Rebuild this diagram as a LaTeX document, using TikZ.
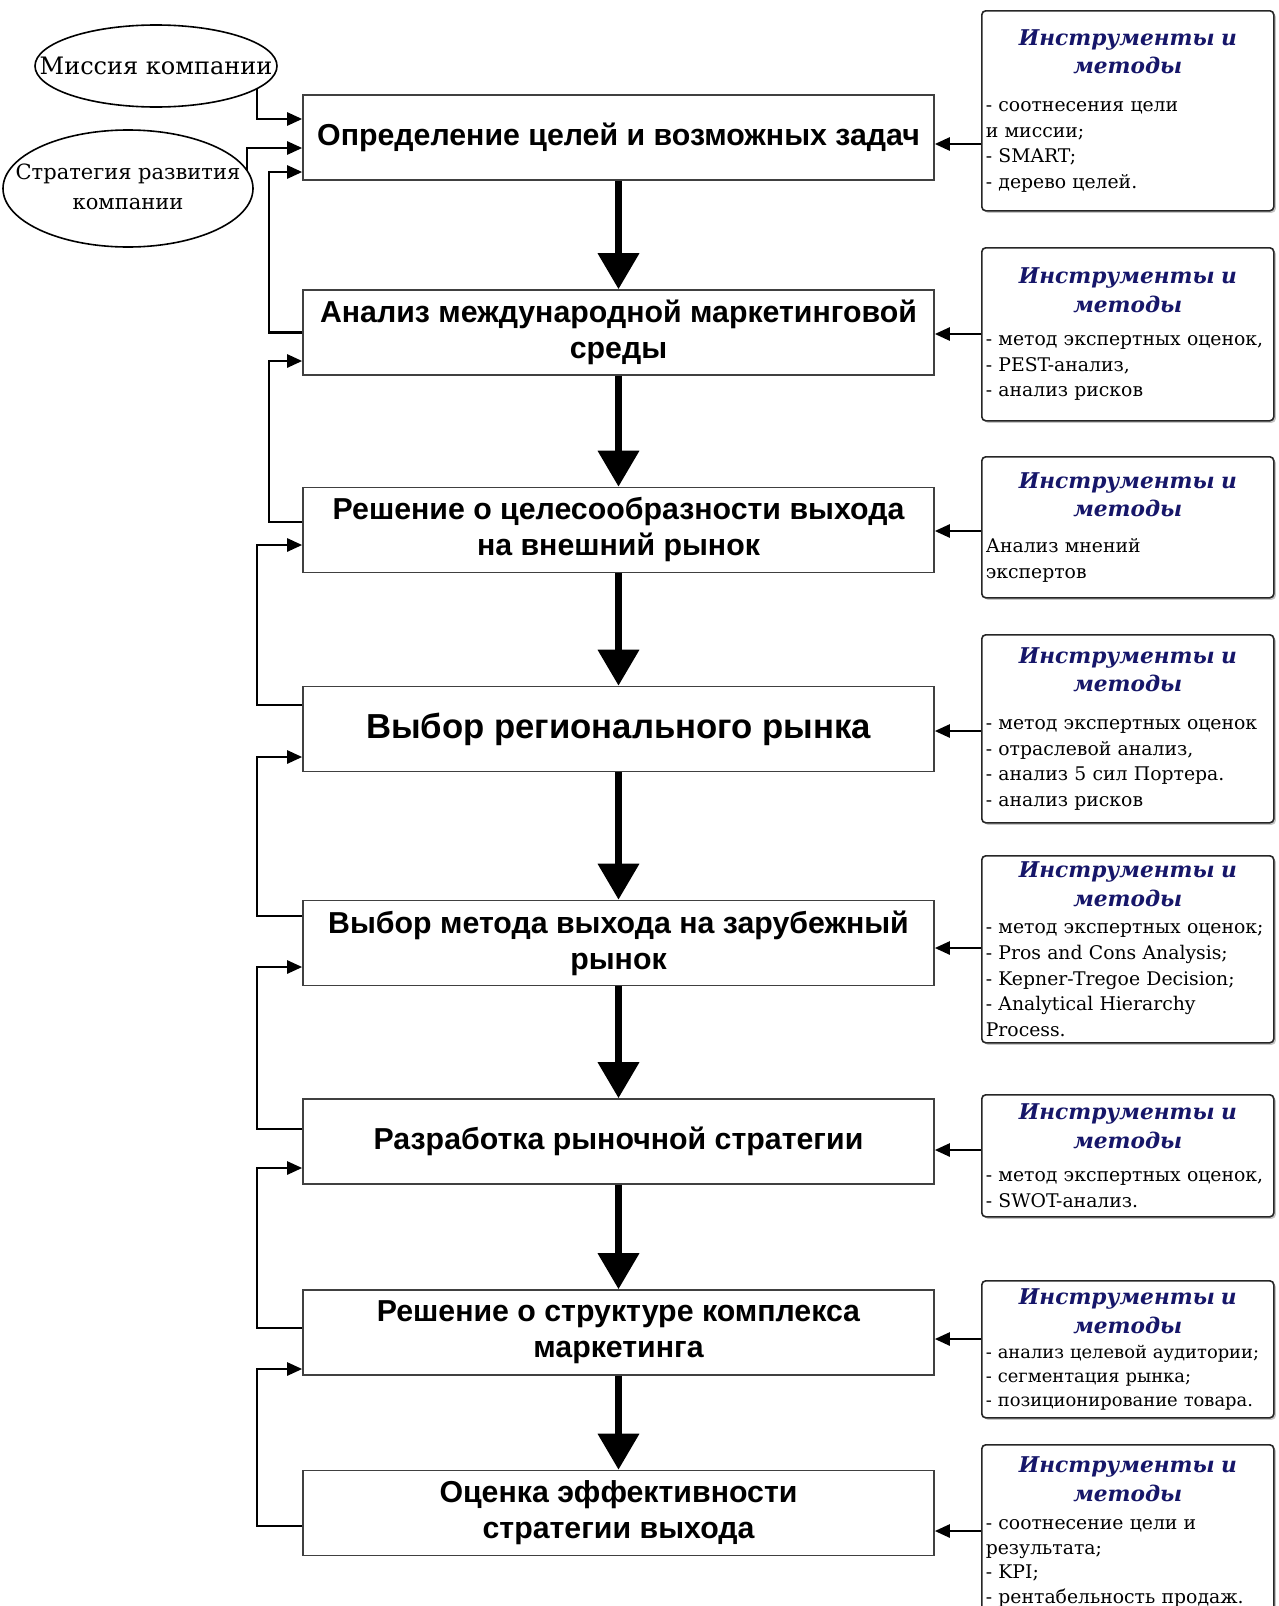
\documentclass[tikz,border=0pt]{standalone}
\usepackage{fontspec}
\setmainfont{DejaVu Serif}
\newfontfamily\boxfont{Liberation Sans}
\usetikzlibrary{arrows.meta,shapes.geometric,shadows}

\definecolor{hdrblue}{RGB}{22,22,105}

% header of every tools box, optional gap below it
\newcommand{\toolhead}[1][8pt]{\parindent=0pt%
  {\centering\fontsize{21.7}{28.5}\selectfont\bfseries\itshape\color{hdrblue}Инструменты и\\методы\par}%
  \vspace{#1}\raggedright}

\tikzset{
  stage/.style={draw=black!75, line width=1.6pt, minimum width=631pt, minimum height=85pt,
    align=center, inner sep=2pt, font=\boxfont\bfseries\fontsize{30.3}{36}\selectfont},
  tools/.style={draw=black!85, line width=1.6pt, rounded corners=4pt, fill=white,
    drop shadow={shadow xshift=2pt, shadow yshift=-2pt, opacity=0.45},
    anchor=north west, text width=284pt, inner sep=4pt, font=\fontsize{18.8}{25.6}\selectfont},
  goal/.style={ellipse, draw, line width=1.6pt, inner sep=0pt},
  bigarrow/.style={line width=7pt, -{Triangle[length=36pt,width=40pt]}},
  thinarrow/.style={line width=2.5pt, -{Triangle[length=15pt,width=13pt]}},
}

\begin{document}
\begin{tikzpicture}[x=1pt,y=-1pt]
    \useasboundingbox (0,0) rectangle (1278,1606);
    \fill[white] (0,0) rectangle (1278,1606);

    % stages of the process
    \node[stage] (b1) at (618.5,137.5) {Определение целей и возможных задач};
    \node[stage] (b2) at (618.5,332.5) {Анализ международной маркетинговой\\среды};
    \node[stage] (b3) at (618.5,530) {Решение о целесообразности выхода\\на внешний рынок};
    \node[stage, font=\boxfont\bfseries\fontsize{34.7}{40}\selectfont] (b4) at (618.5,729) {Выбор регионального рынка};
    \node[stage] (b5) at (618.5,943) {Выбор метода выхода на зарубежный\\рынок};
    \node[stage] (b6) at (618.5,1141.5) {Разработка рыночной стратегии};
    \node[stage] (b7) at (618.5,1332.5) {Решение о структуре комплекса\\маркетинга};
    \node[stage] (b8) at (618.5,1513) {Оценка эффективности\\стратегии выхода};

    % inputs
    \node[goal, minimum width=242pt, minimum height=82pt, font=\fontsize{24}{30}\selectfont] (e1) at (156,66)
        {\makebox[0pt]{Миссия компании}};
    \node[goal, minimum width=250pt, minimum height=117pt, font=\fontsize{21}{30}\selectfont] (e2) at (128,188.5)
        {\makebox[0pt]{\begin{tabular}{@{}c@{}}Стратегия развития\\компании\end{tabular}}};

    % tools and methods
    \node[tools, minimum height=200pt] (t1) at (981,10) {\toolhead[12pt]- соотнесения цели\\и миссии;\\- SMART;\\- дерево целей.};
    \node[tools, minimum height=173pt] (t2) at (981,247) {\toolhead[8pt]- метод экспертных оценок,\\- PEST-анализ,\\- анализ рисков};
    \node[tools, minimum height=141pt] (t3) at (981,456) {\toolhead[10pt]Анализ мнений\\экспертов};
    \node[tools, minimum height=188pt] (t4) at (981,634) {\toolhead[12pt]- метод экспертных оценок\\- отраслевой анализ,\\- анализ 5 сил Портера.\\- анализ рисков};
    \node[tools, minimum height=187pt] (t5) at (981,855) {\toolhead[2pt]- метод экспертных оценок;\\- Pros and Cons Analysis;\\- Kepner-Tregoe Decision;\\- Analytical Hierarchy\\Process.};
    \node[tools, minimum height=122pt] (t6) at (981,1094) {\toolhead[8pt]- метод экспертных оценок,\\- SWOT-анализ.};
    \node[tools, minimum height=137pt, font=\fontsize{17.9}{24}\selectfont] (t7) at (981,1280) {\toolhead[1pt]- анализ целевой аудитории;\\- сегментация рынка;\\- позиционирование товара.};
    \node[tools, minimum height=174pt, font=\fontsize{18.8}{24.5}\selectfont] (t8) at (981,1444) {\toolhead[4pt]- соотнесение цели и\\результата;\\- KPI;\\- рентабельность продаж.};

    % main flow
    \foreach \a/\b in {b1/b2,b2/b3,b3/b4,b4/b5,b5/b6,b6/b7,b7/b8}
        \draw[bigarrow] (\a) -- (\b);

    % inputs into the first stage
    \draw[thinarrow] (e1.-13) |- ([yshift=18.5pt]b1.west);
    \draw[thinarrow] (e2.9) |- ([yshift=-10.5pt]b1.west);

    % feedback to the previous stage
    \draw[thinarrow] (b2.west) -- ++(-33,0) |- ([yshift=-34.5pt]b1.west);
    \draw[thinarrow] ([yshift=8pt]b3.west) -- ++(-33,0) |- ([yshift=-28.5pt]b2.west);
    \draw[thinarrow] ([yshift=24pt]b4.west) -- ++(-45,0) |- ([yshift=-15pt]b3.west);
    \draw[thinarrow] ([yshift=27pt]b5.west) -- ++(-45,0) |- ([yshift=-28pt]b4.west);
    \draw[thinarrow] ([yshift=12.5pt]b6.west) -- ++(-45,0) |- ([yshift=-24pt]b5.west);
    \draw[thinarrow] ([yshift=4.5pt]b7.west) -- ++(-45,0) |- ([yshift=-26.5pt]b6.west);
    \draw[thinarrow] ([yshift=-13pt]b8.west) -- ++(-45,0) |- ([yshift=-36.5pt]b7.west);

    % tools into stages
    \draw[thinarrow] ([yshift=-6.5pt]b1.east -| t1.west) -- ([yshift=-6.5pt]b1.east);
    \draw[thinarrow] ([yshift=-1.5pt]b2.east -| t2.west) -- ([yshift=-1.5pt]b2.east);
    \draw[thinarrow] ([yshift=-1pt]b3.east -| t3.west) -- ([yshift=-1pt]b3.east);
    \draw[thinarrow] ([yshift=-2pt]b4.east -| t4.west) -- ([yshift=-2pt]b4.east);
    \draw[thinarrow] ([yshift=-5pt]b5.east -| t5.west) -- ([yshift=-5pt]b5.east);
    \draw[thinarrow] ([yshift=-8.5pt]b6.east -| t6.west) -- ([yshift=-8.5pt]b6.east);
    \draw[thinarrow] ([yshift=-6.5pt]b7.east -| t7.west) -- ([yshift=-6.5pt]b7.east);
    \draw[thinarrow] ([yshift=-18pt]b8.east -| t8.west) -- ([yshift=-18pt]b8.east);
\end{tikzpicture}
\end{document}
